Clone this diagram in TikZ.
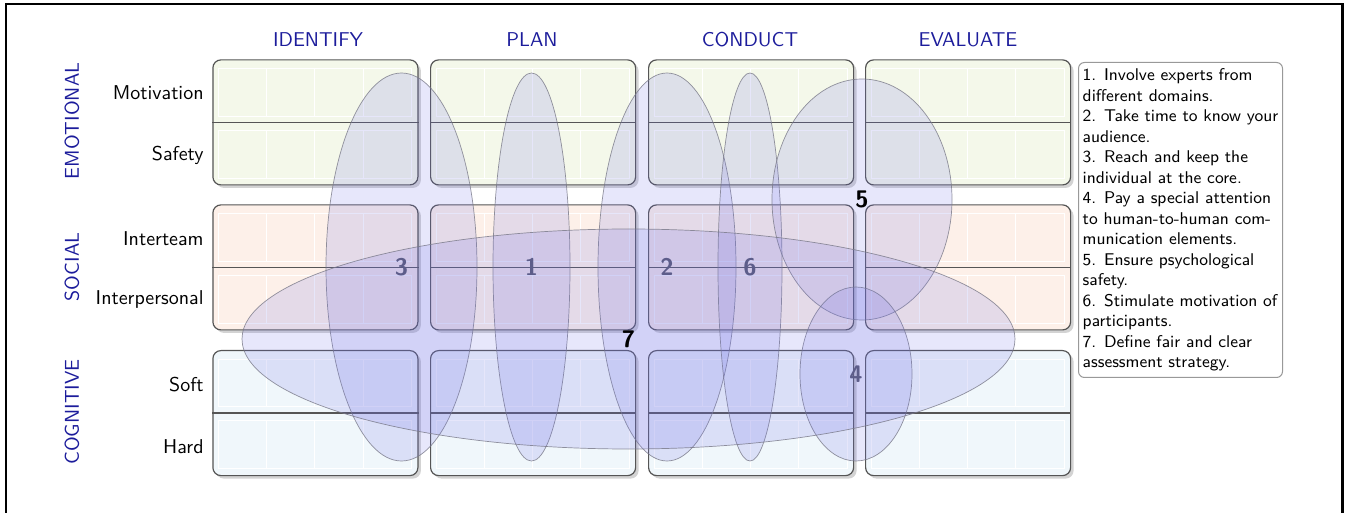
\documentclass[tikz,border=0pt]{standalone}
\usetikzlibrary{shapes.geometric,shadows}
\definecolor{hdr}{RGB}{28,28,155}
\definecolor{emo}{RGB}{244,248,234}
\definecolor{soc}{RGB}{253,240,233}
\definecolor{cog}{RGB}{240,247,251}
\definecolor{ellfill}{RGB}{110,110,230}
\definecolor{elldraw}{RGB}{120,120,135}
\definecolor{numgray}{RGB}{90,90,120}
\definecolor{boxline}{RGB}{85,85,85}
\begin{document}
\begin{tikzpicture}[x=0.5pt,y=-0.5pt,font=\sffamily,
  cell/.style={draw=boxline,line width=0.6pt,rounded corners=4pt,inner sep=0pt,
    minimum width=102.5pt,minimum height=62.5pt,anchor=north west,
    drop shadow={shadow xshift=1.5pt,shadow yshift=-1.5pt,opacity=0.35}},
  gridln/.style={white,line width=0.4pt},
  divider/.style={draw=boxline,line width=0.6pt},
  ell/.style={ellipse,draw=elldraw,line width=0.35pt,fill=ellfill,fill opacity=0.17,
    draw opacity=0.8,text opacity=1,inner sep=0pt,font=\large\sffamily\bfseries,text=numgray},
  hdrlabel/.style={text=hdr,font=\sffamily},
  catlabel/.style={text=hdr,font=\sffamily,rotate=90},
  rowlabel/.style={anchor=east,font=\sffamily,inner sep=0pt},
  legendbox/.style={draw=black!40,line width=0.5pt,rounded corners=3pt,anchor=north west,
    inner xsep=1.5pt,inner ysep=2.5pt,align=left,minimum width=102pt,minimum height=157.5pt,
    font=\fontsize{8.5}{10.25}\selectfont\sffamily},
  frame/.style={draw=black,line width=1.2pt}
]
\useasboundingbox (0,0) rectangle (1345,513);
\draw[frame] (6,520) -- (6,4.3) -- (1342.5,4.3) -- (1342.5,520);

% boxes
\foreach \c/\x in {1/212.3,2/430,3/648,4/865}{
  \foreach \r/\y/\col in {1/59.3/emo,2/204.3/soc,3/350/cog}{
    \node[cell,fill=\col] (b\c\r) at (\x,\y) {};
    \draw[gridln] (\x+6,\y+9) rectangle (\x+199,\y+56.7);
    \draw[gridln] (\x+6,\y+70.7) rectangle (\x+199,\y+118.7);
    \foreach \k in {1,2,3}{
      \draw[gridln] (\x+6+48.25*\k,\y+9) -- (\x+6+48.25*\k,\y+56.7);
      \draw[gridln] (\x+6+48.25*\k,\y+70.7) -- (\x+6+48.25*\k,\y+118.7);
    }
    \draw[divider] (b\c\r.west) -- (b\c\r.east);
  }
}

% headers
\node[hdrlabel] (h1) at (318,40) {IDENTIFY};
\node[hdrlabel] (h2) at (532,40) {PLAN};
\node[hdrlabel] (h3) at (750,40) {CONDUCT};
\node[hdrlabel] (h4) at (968,40) {EVALUATE};

% categories
\node[catlabel] (c1) at (72,121) {EMOTIONAL};
\node[catlabel] (c2) at (72,267) {SOCIAL};
\node[catlabel] (c3) at (72,412) {COGNITIVE};

% row labels
\node[rowlabel] (r1) at (204,93) {Motivation};
\node[rowlabel] (r2) at (204,155) {Safety};
\node[rowlabel] (r3) at (204,239) {Interteam};
\node[rowlabel] (r4) at (204,300) {Interpersonal};
\node[rowlabel] (r5) at (204,385) {Soft};
\node[rowlabel] (r6) at (204,447) {Hard};

% ellipses
\node[ell,minimum width=75.5pt,minimum height=194pt] (e3) at (401.5,267) {3};
\node[ell,minimum width=38.5pt,minimum height=194pt] (e1) at (531.5,267) {1};
\node[ell,minimum width=69pt,minimum height=194pt] (e2) at (667,267) {2};
\node[ell,minimum width=32pt,minimum height=194pt] (e6) at (750,267) {6};
\node[ell,minimum width=90pt,minimum height=120.5pt,text=black] (e5) at (862,199.5) {5};
\node[ell,minimum width=56pt,minimum height=87pt] (e4) at (856,374) {4};
\node[ell,minimum width=386.5pt,minimum height=110pt,text=black] (e7) at (628.5,339) {7};

% legend
\node[legendbox] (legend) at (1078,62) {1. Involve experts from\\
different domains.\\
2. Take time to know your\\
audience.\\
3. Reach and keep the\\
individual at the core.\\
4. Pay a special attention\\
to human-to-human com-\\
munication elements.\\
5. Ensure psychological\\
safety.\\
6. Stimulate motivation of\\
participants.\\
7. Define fair and clear\\
assessment strategy.};
\end{tikzpicture}
\end{document}
